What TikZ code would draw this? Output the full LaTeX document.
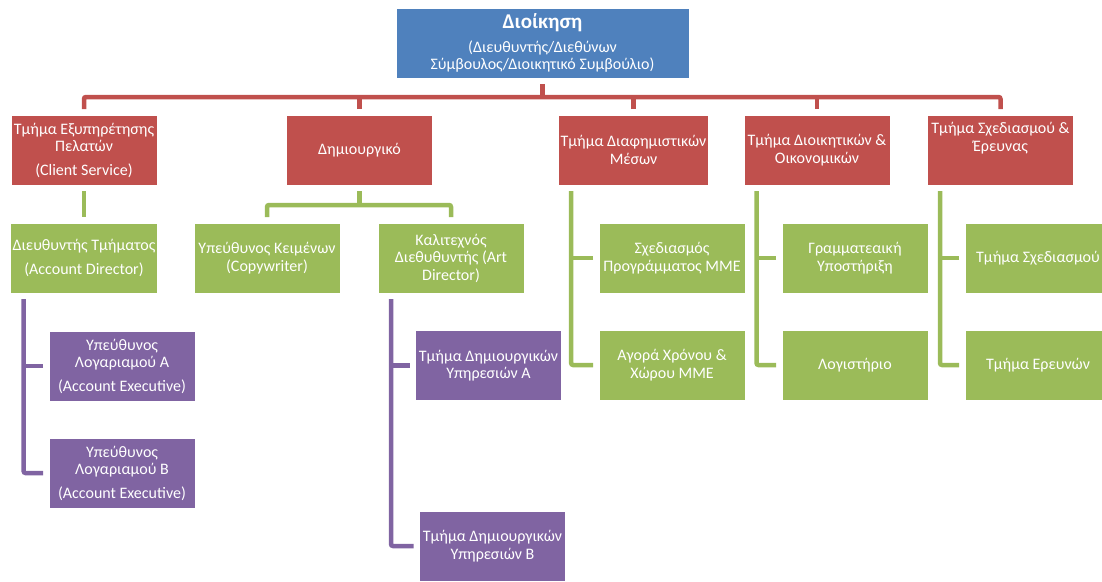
\documentclass[tikz,border=0pt]{standalone}
\usepackage{fontspec}
\setmainfont{Carlito}
\usepackage{xcolor}
\usepackage{tikz}
\usetikzlibrary{calc}

\definecolor{orgblue}{HTML}{4F81BD}
\definecolor{orgred}{HTML}{C0504D}
\definecolor{orggreen}{HTML}{9BBB59}
\definecolor{orgpurple}{HTML}{8064A2}

\begin{document}
\begin{tikzpicture}[x=1pt,y=-1pt,
	unitbox/.style={rectangle,fill=#1,draw=white,line width=0.6pt,text=white,align=center,
		minimum width=146pt,minimum height=70pt,inner sep=2pt,outer sep=6pt,
		font=\fontsize{16}{17.5}\selectfont},
	redline/.style={draw=orgred,line width=4.5pt,rounded corners=2pt},
	greenline/.style={draw=orggreen,line width=4.5pt,rounded corners=2pt},
	purpleline/.style={draw=orgpurple,line width=4.5pt,rounded corners=2pt}]
	        \useasboundingbox (0,0) rectangle (1102,581);
	        \clip (0,0) rectangle (1102,581);
	        % management
	        \node[unitbox=orgblue,minimum width=293pt] (top) at (542.5,43)
	            {{\fontsize{21}{24}\selectfont\bfseries Διοίκηση}\\[6pt](Διευθυντής/Διεθύνων\\Σύμβουλος/Διοικητικό Συμβούλιο)};
	        % departments
	        \node[unitbox=orgred] (client) at (84,150) {Τμήμα Εξυπηρέτησης\\Πελατών\\[6pt](Client Service)};
	        \node[unitbox=orgred] (creative) at (359.5,150) {Δημιουργικό};
	        \node[unitbox=orgred] (media) at (633.5,150) {Τμήμα Διαφημιστικών\\Μέσων};
	        \node[unitbox=orgred] (admin) at (817,150) {Τμήμα Διοικητικών \&\\Οικονομικών};
	        \node[unitbox=orgred,text depth=26pt] (research) at (1000.5,150) {Τμήμα Σχεδιασμού \&\\Έρευνας};
	        % second level
	        \node[unitbox=orggreen] (accdir) at (84,258) {Διευθυντής Τμήματος\\[6pt](Account Director)};
	        \node[unitbox=orggreen] (copy) at (267,258) {Υπεύθυνος Κειμένων\\(Copywriter)};
	        \node[unitbox=orggreen] (artdir) at (451,258) {Καλιτεχνός\\Διεθυθυντής (Art\\Director)};
	        \node[unitbox=orggreen] (mediaplan) at (672,258) {Σχεδιασμός\\Προγράμματος ΜΜΕ};
	        \node[unitbox=orggreen] (mediabuy) at (672,365) {Αγορά Χρόνου \&\\Χώρου ΜΜΕ};
	        \node[unitbox=orggreen] (secret) at (855,258) {Γραμματεαική\\Υποστήριξη};
	        \node[unitbox=orggreen] (account) at (855,365) {Λογιστήριο};
	        \node[unitbox=orggreen] (design) at (1038,258) {Τμήμα Σχεδιασμού};
	        \node[unitbox=orggreen] (survey) at (1038,365) {Τμήμα Ερευνών};
	        % third level
	        \node[unitbox=orgpurple] (accexa) at (122,366) {Υπεύθυνος\\Λογαριαμού Α\\[6pt](Account Executive)};
	        \node[unitbox=orgpurple] (accexb) at (122,473) {Υπεύθυνος\\Λογαριαμού Β\\[6pt](Account Executive)};
	        \node[unitbox=orgpurple] (crea) at (488.5,365.5) {Τμήμα Δημιουργικών\\Υπηρεσιών Α};
	        \node[unitbox=orgpurple] (creb) at (492.5,546) {Τμήμα Δημιουργικών\\Υπηρεσιών Β};
	        % connectors
	        \coordinate (bar) at (0,97); %red bar
	        \coordinate (gbar) at (0,205); %creative bar
	        \draw[redline] (top.south) -- (top.south |- bar);
	        \draw[redline] (client.north) |- (bar -| research.north) -- (research.north);
	        \foreach \n in {creative,media,admin}
	            \draw[redline] (\n.north) -- (\n.north |- bar);
	        \draw[greenline] (client.south) -- (accdir.north);
	        \draw[greenline] (creative.south) -- (creative.south |- gbar);
	        \draw[greenline] (copy.north) |- (gbar -| artdir.north) -- (artdir.north);
	        \foreach \d/\a/\b in {media/mediaplan/mediabuy,admin/secret/account,research/design/survey}{
	            \coordinate (\d trunk) at ($(\d.south west)+(18.5,0)$);
	            \draw[greenline] (\d trunk) |- (\b.west);
	            \draw[greenline] (\a.west) -- (\a.west -| \d trunk);
	        }
	        \coordinate (acctrunk) at ($(accdir.south west)+(19,0)$);
	        \draw[purpleline] (acctrunk) |- (accexb.west);
	        \draw[purpleline] (accexa.west) -- (accexa.west -| acctrunk);
	        \coordinate (arttrunk) at ($(artdir.south west)+(19,0)$);
	        \draw[purpleline] (arttrunk) |- (creb.west);
	        \draw[purpleline] (crea.west) -- (crea.west -| arttrunk);
	    \end{tikzpicture}
\end{document}
